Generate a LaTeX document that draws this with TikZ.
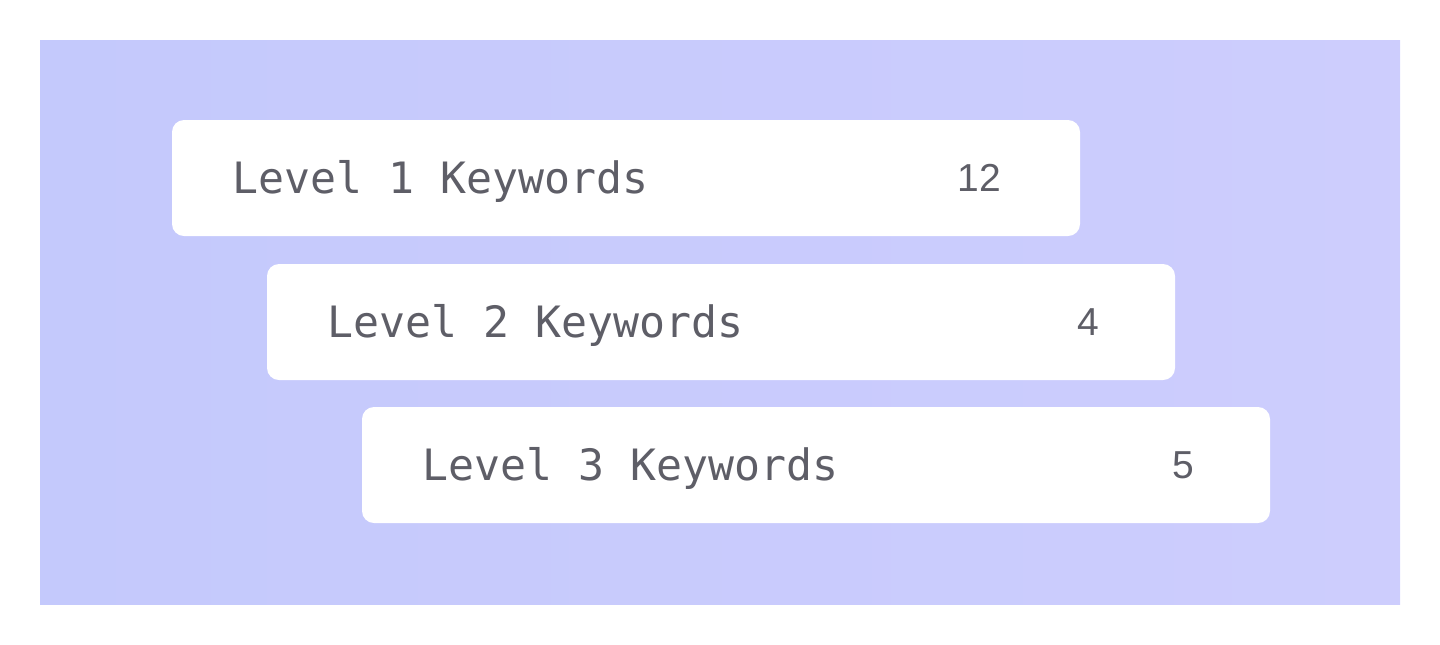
\documentclass[tikz,border=0pt]{standalone}
\usepackage{fontspec}
\newfontfamily\kwmono{DejaVu Sans Mono}
\newfontfamily\kwsans{Liberation Sans}
\definecolor{kwtext}{HTML}{5E5E67}
\definecolor{bgleft}{HTML}{C4C9FC}
\definecolor{bgright}{HTML}{CDCDFD}
\tikzset{
  kwbox/.style={fill=white, rounded corners=6pt, minimum width=454pt, minimum height=58pt, inner sep=0pt},
  kwlabel/.style={anchor=west, inner sep=0pt, yshift=-1.5pt, text=kwtext, font=\kwmono\fontsize{21.6}{24}\selectfont},
  kwcount/.style={anchor=east, inner sep=0pt, text=kwtext, font=\kwsans\fontsize{19.5}{22}\selectfont}
}
\begin{document}
\begin{tikzpicture}[x=0.5pt, y=-0.5pt]
\useasboundingbox (0, 0) rectangle (1440, 644);
\shade[left color=bgleft, right color=bgright] (40, 40) rectangle (1400, 604);
\node[kwbox] (lvl1) at (626, 178) {};
\node[kwbox] (lvl2) at (721, 322) {};
\node[kwbox] (lvl3) at (816, 465) {};
\node[kwlabel] (name1) at ([xshift=30pt]lvl1.west) {Level 1 Keywords};
\node[kwlabel] (name2) at ([xshift=30pt]lvl2.west) {Level 2 Keywords};
\node[kwlabel] (name3) at ([xshift=30pt]lvl3.west) {Level 3 Keywords};
\node[kwcount] (count1) at ([xshift=-39.5pt]lvl1.east) {12};
\node[kwcount] (count2) at ([xshift=-38pt]lvl2.east) {4};
\node[kwcount] (count3) at ([xshift=-38pt]lvl3.east) {5};
\end{tikzpicture}
\end{document}
